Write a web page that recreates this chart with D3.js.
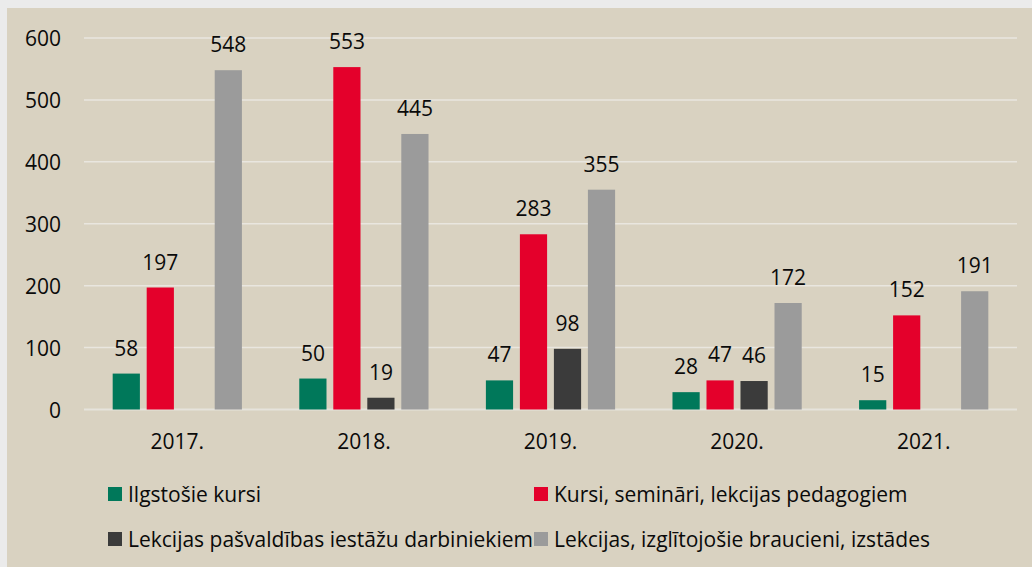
<!DOCTYPE html>
<html><head><meta charset="utf-8">
<script src="https://cdn.jsdelivr.net/npm/d3@7"></script>
<style>
html,body{margin:0;padding:0;background:#ebebeb;}
svg{display:block;}
text{font-family:"Open Sans","Noto Sans",sans-serif;fill:#0a0a0a;}
</style></head><body>
<svg id="c" width="1032" height="567"></svg>
<script>
const years = ["2017.", "2018.", "2019.", "2020.", "2021."];
const seriesNames = ["Ilgstošie kursi", "Kursi, semināri, lekcijas pedagogiem", "Lekcijas pašvaldības iestāžu darbiniekiem", "Lekcijas, izglītojošie braucieni, izstādes"];
const ilgstosie = [58, 50, 47, 28, 15];
const kursi = [197, 553, 283, 47, 152];
const pasvaldibas = [null, 19, 98, 46, null];
const lekcijas = [548, 445, 355, 172, 191];
const yTicks = [0, 100, 200, 300, 400, 500, 600];
const colors = ["#00785a", "#e4002b", "#3b3b3b", "#9b9b9b"];

(function(){
const series = [ilgstosie, kursi, pasvaldibas, lekcijas];
const FS = 21;
const svg = d3.select("#c");
svg.append("rect").attr("x",7).attr("y",8).attr("width",1032).attr("height",567).attr("fill","#d9d2c1");

const pl = 84, pr = 1017, pt = 38, pb = 409.5;
const y = d3.scaleLinear().domain([0,600]).range([pb, pt]);
const x0 = d3.scaleBand().domain(years).range([pl,pr]).paddingInner(0.271).paddingOuter(0.1355);
const x1 = d3.scaleBand().domain(d3.range(4)).range([0, x0.bandwidth()]).paddingInner(0.2).paddingOuter(0.1);

svg.append("g").selectAll("line").data(yTicks).join("line")
  .attr("x1",pl).attr("x2",pr).attr("y1",d=>y(d)).attr("y2",d=>y(d))
  .attr("stroke",d=>d===0?"#e6e3dc":"#e9e6df").attr("stroke-width",d=>d===0?2:1.5);

svg.append("g").selectAll("text").data(yTicks).join("text")
  .attr("x",61).attr("y",d=>y(d)).attr("text-anchor","end").attr("dominant-baseline","central")
  .attr("font-size",FS).text(d=>d);

const g = svg.append("g");
years.forEach((yr,i)=>{
  series.forEach((s,j)=>{
    const v = s[i];
    if (v==null) return;
    g.append("rect").attr("x",x0(yr)+x1(j)).attr("width",x1.bandwidth())
      .attr("y",y(v)).attr("height",y(0)-y(v)).attr("fill",colors[j]);
    g.append("text").attr("x",x0(yr)+x1(j)+x1.bandwidth()/2).attr("y",y(v)-18)
      .attr("text-anchor","middle").attr("font-size",FS).text(v);
  });
});

svg.append("g").selectAll("text").data(years).join("text")
  .attr("x",d=>x0(d)+x0.bandwidth()/2).attr("y",441).attr("dominant-baseline","central")
  .attr("text-anchor","middle").attr("font-size",FS).text(d=>d);

const legPos = [[108,494],[534,494],[108,539],[534,539]];
seriesNames.forEach((n,j)=>{
  const [lx,ly] = legPos[j];
  svg.append("rect").attr("x",lx).attr("y",ly-7).attr("width",14).attr("height",14).attr("fill",colors[j]);
  svg.append("text").attr("x",lx+20).attr("y",ly).attr("dominant-baseline","central")
    .attr("font-size",FS).text(n);
});
})();
</script></body></html>
